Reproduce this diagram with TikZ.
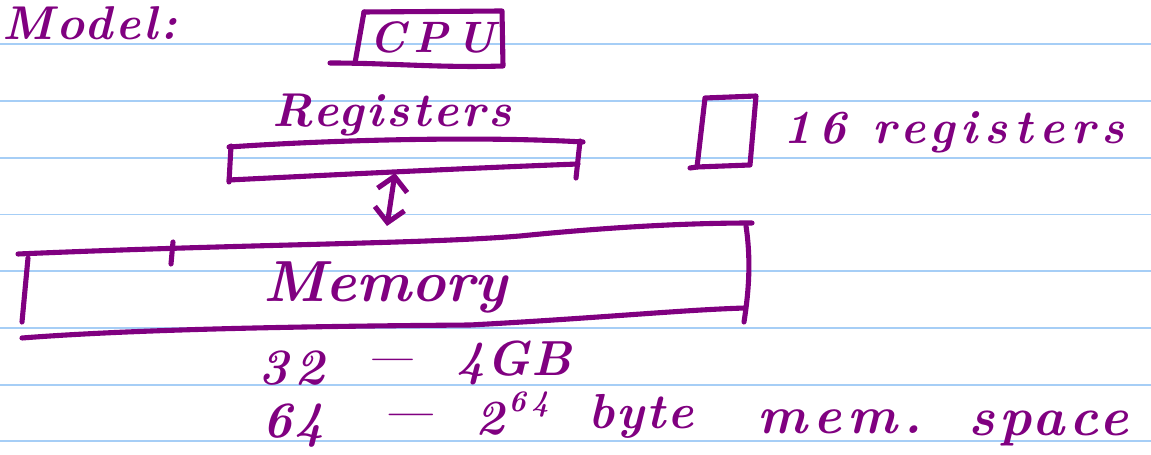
\documentclass[tikz,border=0pt]{standalone}
\usepackage{fontspec}
\usepackage{xcolor}
\usetikzlibrary{arrows.meta}
\newfontfamily\nbhand{lmroman10-bolditalic.otf}
\newcommand\nbfont[2]{\nbhand\fontsize{#1}{#1}\selectfont\addfontfeatures{LetterSpace=#2}}
\definecolor{nbpurple}{RGB}{128,0,128}
\definecolor{nbblue}{RGB}{166,206,246}
\tikzset{
  nbrule/.style={line width=1.1pt, draw=nbblue},
  nbink/.style={line width=2.9pt, draw=nbpurple, line cap=round, line join=round},
  nbtext/.style={inner sep=0pt, text=nbpurple},
  nbarrow/.style={nbink, {Straight Barb[length=8pt,width=17pt]}-{Straight Barb[length=8pt,width=17pt]}},
}

\begin{document}
\begin{tikzpicture}[x=0.02cm, y=-0.02cm]
\useasboundingbox (0,0) rectangle (1151,455);
% ruled paper
\foreach \i in {0,...,7}
  \draw[nbrule] (0,44.4+56.7*\i) -- (1151,44.4+56.7*\i);

% title
\node[nbtext, anchor=base west, font=\nbfont{27}{6}] (model) at (2,40) {Model:};

% cpu
\node[nbtext, font=\nbfont{25}{18}] (cpu) at (432,37) {CPU};
\draw[nbink] (364,12) -- (502,11) -- (503,66) .. controls (440,68) and (390,63) .. (330,63);
\draw[nbink] (364,12) -- (355,63);

% registers
\node[nbtext, anchor=base west, font=\nbfont{27}{6}] (reglbl) at (272,127) {Registers};
\draw[nbink] (229,147) .. controls (330,140) and (480,136) .. (583,142);
\draw[nbink] (231,146) -- (229,182);
\draw[nbink] (580,141) -- (576,178);
\draw[nbink] (229,180) .. controls (330,175) and (470,168) .. (578,164);

% memory
\draw[nbink] (18,254) .. controls (250,244) and (420,244) .. (520,236) .. controls (600,228) and (680,223) .. (752,223);
\draw[nbink] (173,242) -- (171,264);
\draw[nbink] (28,258) -- (22,322);
\draw[nbink] (746,226) .. controls (751,260) and (749,290) .. (744,322);
\draw[nbink] (22,338) .. controls (150,328) and (350,326) .. (470,325) .. controls (600,318) and (680,310) .. (745,308);
\node[nbtext, anchor=base west, font=\nbfont{33}{0}] (memlbl) at (263,302) {Memory};

% link
\coordinate (regbot) at (395,173);
\coordinate (memtop) at (387,226);
\draw[nbarrow] (regbot) -- (memtop);

% one register
\draw[nbink] (705,98) -- (756,96) -- (750,165) -- (697,167) -- cycle;
\draw[nbink] (690,168) -- (697,167);
\node[nbtext, anchor=base west, font=\nbfont{27}{14}] (cntlbl) at (783,144) {16 registers};

% address widths
\node[nbtext, anchor=base west, font=\nbfont{29}{12}] (w32) at (258,384) {32};
\node[nbtext, anchor=base, font=\nbfont{22}{0}] (dasha) at (390,370) {\textemdash};
\node[nbtext, anchor=base west, font=\nbfont{28}{2}] (w4gb) at (456,376) {4GB};
\node[nbtext, anchor=base west, font=\nbfont{29}{4}] (w64) at (262,437) {64};
\node[nbtext, anchor=base, font=\nbfont{24}{0}] (dashb) at (408,426) {\textemdash};
\node[nbtext, anchor=base west, font=\nbfont{28}{0}] (wtwo) at (475,434) {2};
\node[nbtext, anchor=base west, font=\nbfont{17}{18}] (wexp) at (508,411) {64};
\node[nbtext, anchor=base west, font=\nbfont{28}{4}] (wbyte) at (588,428) {byte};
\node[nbtext, anchor=base west, font=\nbfont{30}{12}] (wmem) at (757,433) {mem.};
\node[nbtext, anchor=base west, font=\nbfont{31}{8}] (wspace) at (968,435) {space};
\end{tikzpicture}
\end{document}
